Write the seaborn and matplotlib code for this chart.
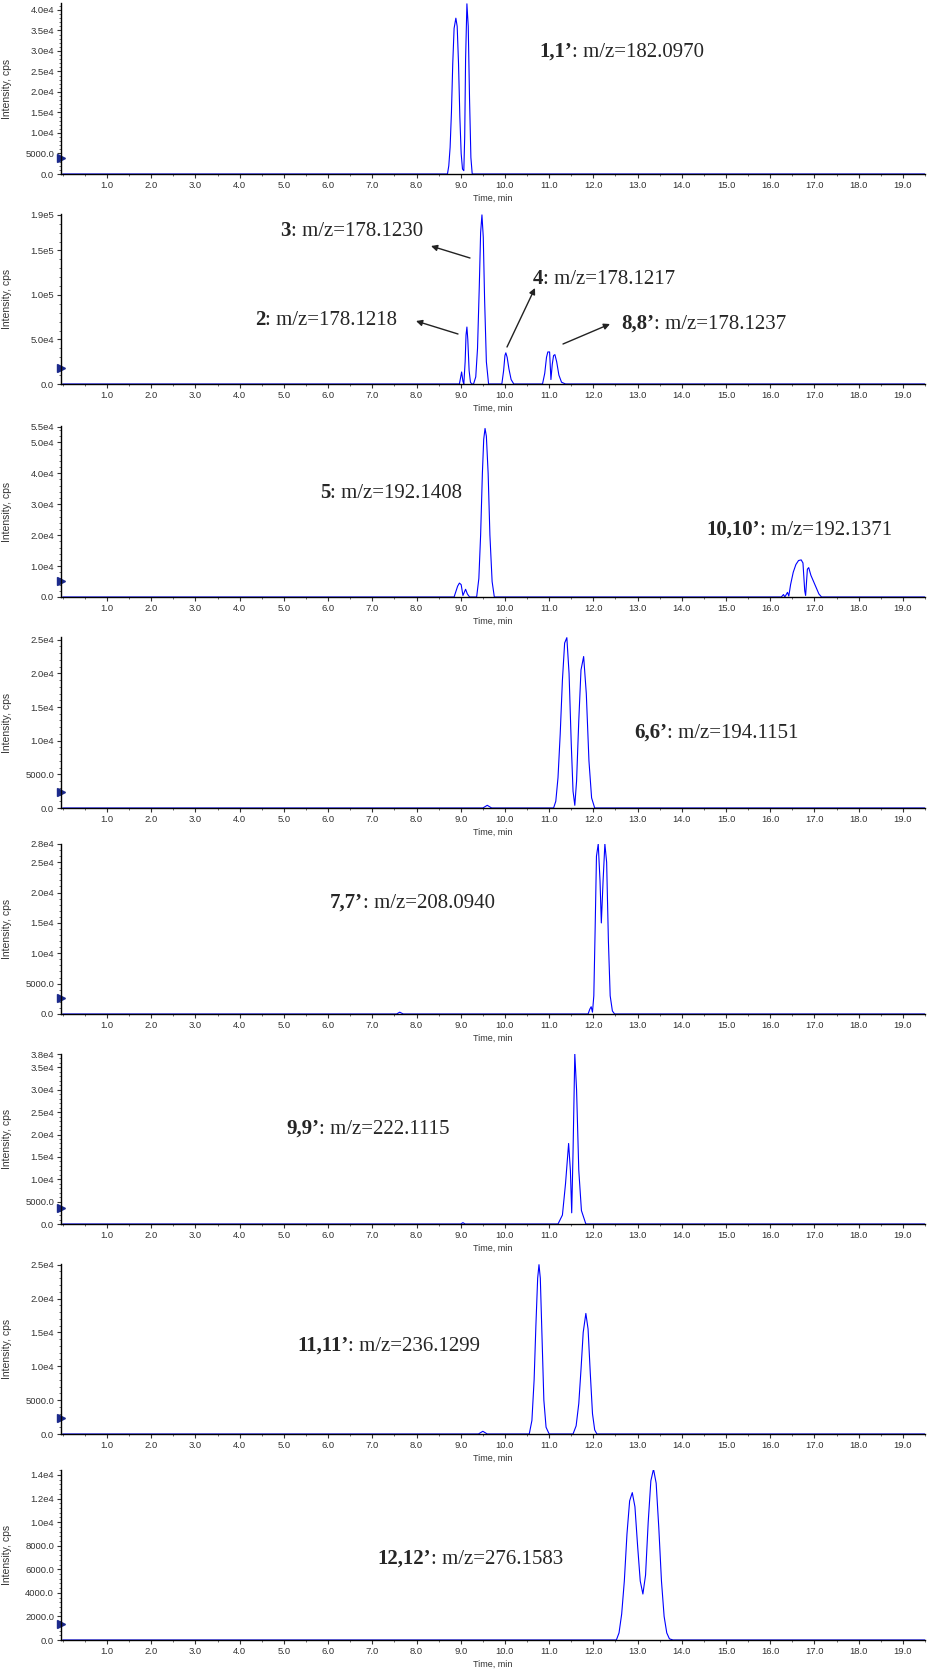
import numpy as np
import pandas as pd
import seaborn as sns
import matplotlib.pyplot as plt
from matplotlib.ticker import FixedLocator, MultipleLocator, AutoMinorLocator, FuncFormatter

# chromatogram traces (time in min, intensity in cps)
t1 = [0, 8.70, 8.73, 8.76, 8.79, 8.82, 8.85, 8.89, 8.92, 8.95, 8.98, 9.01, 9.04, 9.07,
      9.09, 9.11, 9.14, 9.17, 9.20, 9.23, 9.26, 19.5]
i1 = [0, 0, 2000, 6500, 15000, 27000, 35500, 38000, 36000, 27000, 14000, 5000, 1200, 800,
      9000, 28000, 41500, 36000, 18000, 4000, 0, 0]

t2 = [0, 8.97, 9.00, 9.02, 9.05, 9.07, 9.10, 9.12, 9.14, 9.16, 9.19, 9.22, 9.25,
      9.29, 9.34, 9.38, 9.42, 9.45, 9.48, 9.51, 9.54, 9.58, 9.63,
      9.93, 9.97, 10.00, 10.02, 10.05, 10.09, 10.14, 10.20,
      10.85, 10.90, 10.94, 10.97, 11.01, 11.04, 11.07, 11.10, 11.13, 11.17, 11.22, 11.28, 11.37, 19.5]
i2 = [0, 0, 8000, 13500, 3000, 0, 25000, 55000, 64000, 50000, 15000, 2000, 0,
      0, 8000, 40000, 110000, 170000, 190000, 165000, 95000, 25000, 0,
      0, 15000, 32000, 35000, 30000, 17000, 5000, 0,
      0, 12000, 30000, 36000, 36000, 5000, 22000, 32000, 33000, 25000, 10000, 2000, 0, 0]

t3 = [0, 8.85, 8.93, 8.97, 9.01, 9.05, 9.08, 9.11, 9.15, 9.20,
      9.36, 9.41, 9.45, 9.49, 9.52, 9.55, 9.58, 9.62, 9.66, 9.71, 9.76,
      16.25, 16.30, 16.33, 16.39, 16.42, 16.46, 16.52, 16.58, 16.64, 16.70, 16.74, 16.78, 16.80,
      16.84, 16.87, 16.92, 16.98, 17.04, 17.10, 17.16, 19.5]
i3 = [0, 0, 3500, 4500, 4000, 500, 1500, 2500, 1000, 0,
      0, 6000, 20000, 40000, 51000, 54500, 52000, 40000, 20000, 5000, 0,
      0, 800, 0, 1500, 300, 4000, 8000, 10500, 11800, 12000, 11000, 2000, 500,
      9000, 9500, 7000, 5000, 3000, 1000, 0, 0]

t4 = [0, 9.50, 9.60, 9.70,
      11.10, 11.15, 11.20, 11.25, 11.30, 11.35, 11.40, 11.45, 11.50, 11.54, 11.58,
      11.62, 11.67, 11.72, 11.78, 11.84, 11.90, 11.96, 12.03, 19.5]
i4 = [0, 0, 400, 0,
      0, 1000, 4500, 11000, 19000, 24500, 25300, 20000, 9500, 2500, 400,
      4000, 13000, 20500, 22500, 17000, 7000, 1500, 0, 0]

t5 = [0, 7.55, 7.62, 7.70, 11.88, 11.92, 11.95, 11.98, 12.01, 12.04, 12.07, 12.11, 12.15, 12.18,
      12.22, 12.26, 12.30, 12.34, 12.38, 12.43, 12.48, 19.5]
i5 = [0, 0, 300, 0, 0, 800, 1200, 300, 3000, 14000, 26000, 28000, 22000, 15000,
      22000, 28000, 25000, 12000, 3000, 500, 0, 0]

t6 = [0, 9.00, 9.05, 9.10, 11.20, 11.30, 11.37, 11.44, 11.48, 11.51, 11.54, 11.58, 11.62,
      11.67, 11.73, 11.83, 19.5]
i6 = [0, 0, 300, 0, 0, 2000, 9000, 18000, 12000, 2500, 16000, 38000, 30000,
      12000, 3000, 0, 0]

t7 = [0, 9.40, 9.50, 9.60, 10.55, 10.61, 10.66, 10.70, 10.74, 10.77, 10.80, 10.84, 10.88, 10.93, 11.00,
      11.54, 11.61, 11.67, 11.72, 11.77, 11.83, 11.88, 11.93, 11.98, 12.03, 12.08, 19.5]
i7 = [0, 0, 400, 0, 0, 2000, 8000, 16000, 23000, 25000, 23000, 14000, 5000, 1000, 0,
      0, 1200, 4500, 9500, 15000, 17800, 15500, 9000, 3000, 600, 0, 0]

t8 = [0, 12.52, 12.58, 12.64, 12.70, 12.76, 12.82, 12.88, 12.94, 13.00, 13.06, 13.12,
      13.18, 13.24, 13.30, 13.36, 13.42, 13.48, 13.54, 13.60, 13.66, 13.72, 13.80, 19.5]
i8 = [0, 0, 600, 2200, 5000, 9000, 11800, 12500, 11300, 8000, 5000, 3900,
      5500, 10000, 13500, 14500, 13300, 9500, 5000, 2000, 600, 100, 0, 0]

times = [t1, t2, t3, t4, t5, t6, t7, t8]
intens = [i1, i2, i3, i4, i5, i6, i7, i8]
ytops = [41700, 191000, 55300, 25400, 28000, 38000, 25100, 14420]
yticks = [list(range(0, 40001, 5000)),
          [0, 50000, 100000, 150000, 190000],
          [0, 10000, 20000, 30000, 40000, 50000, 55000],
          list(range(0, 25001, 5000)),
          [0, 5000, 10000, 15000, 20000, 25000, 28000],
          [0, 5000, 10000, 15000, 20000, 25000, 30000, 35000, 38000],
          list(range(0, 25001, 5000)),
          list(range(0, 14001, 2000))]

# compound labels: (bold part, rest, left px, center px)
labels = [
    [("1,1\u2019", ": m/z=182.0970", 539, 50)],
    [("3", ": m/z=178.1230", 280, 229), ("2", ": m/z=178.1218", 255, 318),
     ("4", ": m/z=178.1217", 533, 277), ("8,8\u2019", ": m/z=178.1237", 621, 322)],
    [("5", ": m/z=192.1408", 320, 491), ("10,10\u2019", ": m/z=192.1371", 706, 528)],
    [("6,6\u2019", ": m/z=194.1151", 634, 731)],
    [("7,7\u2019", ": m/z=208.0940", 330, 901)],
    [("9,9\u2019", ": m/z=222.1115", 286, 1127)],
    [("11,11\u2019", ": m/z=236.1299", 297, 1344)],
    [("12,12\u2019", ": m/z=276.1583", 377, 1557)],
]
arrows = [((470, 258), (431, 246)), ((458, 334), (416, 321)),
          ((507, 347), (535, 288)), ((563, 344), (610, 324))]

# axes extents in pixels (top, bottom)
boxes = [(3, 174), (214, 384), (426, 597), (637, 808), (844, 1014),
         (1054, 1224), (1264, 1434), (1470, 1640)]

sns.set_theme(style='ticks')
plt.rcParams['font.family'] = ['Liberation Sans', 'DejaVu Sans']

W, H = 930, 1673
fig = plt.figure(figsize=(W / 100, H / 100), dpi=100)


def yfmt(v, pos):
    if v == 0:
        return '0.0'
    if v < 10000:
        return '%.1f' % v
    e = int(np.floor(np.log10(v)))
    return '%.1fe%d' % (v / 10 ** e, e)


for k in range(8):
    top, bot = boxes[k]
    ax = fig.add_axes([61 / W, 1 - bot / H, 864 / W, (bot - top) / H])
    df = pd.DataFrame({'Time': times[k], 'Intensity': intens[k]})
    sns.lineplot(data=df, x='Time', y='Intensity', ax=ax, color='#0000ff',
                 lw=0.8, estimator=None, sort=False)
    ax.set_xlim(-0.04, 19.5)
    ax.set_ylim(0, ytops[k])
    for s in ['top', 'right']:
        ax.spines[s].set_visible(False)
    for s in ['left', 'bottom']:
        ax.spines[s].set_linewidth(1.0)
        ax.spines[s].set_color('black')
    ax.xaxis.set_major_locator(FixedLocator(list(range(1, 20))))
    ax.xaxis.set_major_formatter(FuncFormatter(lambda v, p: '%.1f' % v))
    ax.xaxis.set_minor_locator(MultipleLocator(0.5))
    ax.yaxis.set_major_locator(FixedLocator(yticks[k]))
    ax.yaxis.set_major_formatter(FuncFormatter(yfmt))
    ax.yaxis.set_minor_locator(AutoMinorLocator(5))
    ax.tick_params(axis='both', which='major', labelsize=6.8, labelcolor='#333333',
                   length=3, width=0.8, pad=2, color='#333333')
    ax.tick_params(axis='both', which='minor', length=1.5, width=0.6, color='#555555')
    ax.set_xlabel('Time, min', fontsize=6.5, color='#333333', labelpad=3)
    ax.set_ylabel('Intensity, cps', fontsize=7.5, color='#333333', labelpad=4)
    ax.yaxis.set_label_coords(-49 / 864, 0.5)
    # start-of-trace marker on the y axis
    ax.plot([0], [0.094], marker='>', color='#1c2a8c', markersize=6,
            transform=ax.transAxes, clip_on=False)
    ax.grid(False)

    for bold, rest, lx, cy in labels[k]:
        t = fig.text(lx / W, 1 - (cy + 7) / H, bold, fontsize=15, fontweight='bold',
                     family='Liberation Serif', va='baseline', ha='left')
        ax.annotate(rest, xy=(1, 0), xycoords=t, fontsize=15, family='Liberation Serif',
                    va='bottom', ha='left', annotation_clip=False)

for (x0, y0), (x1, y1) in arrows:
    fig.axes[1].annotate('', xy=(x1, H - y1), xycoords='figure pixels',
                         xytext=(x0, H - y0), textcoords='figure pixels',
                         arrowprops=dict(arrowstyle='-|>', color='#222222', lw=1.0,
                                         mutation_scale=9, shrinkA=0, shrinkB=0))

fig.savefig('out.png', dpi=100, facecolor='white')
